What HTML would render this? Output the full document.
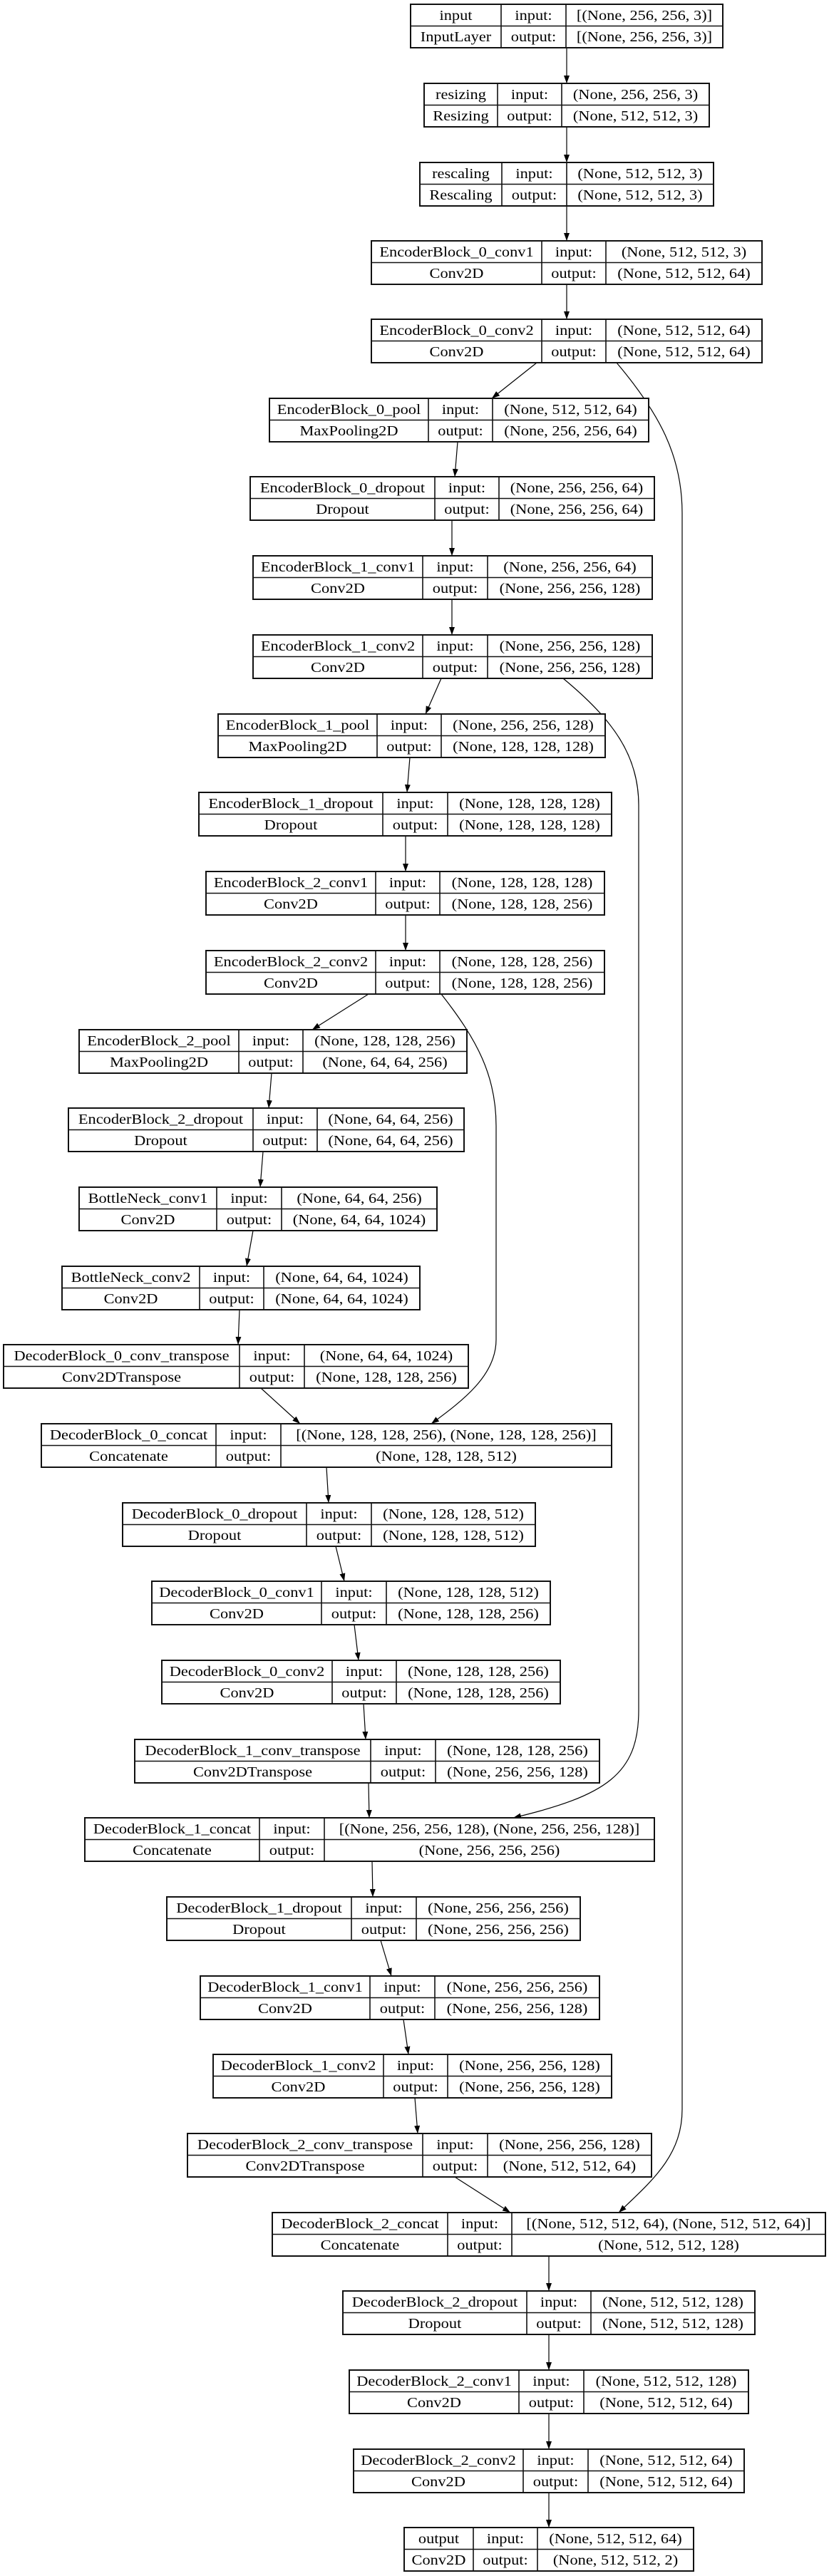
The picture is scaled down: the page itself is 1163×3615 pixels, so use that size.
<!DOCTYPE html>
<html><head><meta charset="utf-8"><style>
html,body{margin:0;padding:0;background:#fff}
svg{display:block}
text{font-family:"Liberation Serif",serif;font-size:20px;text-anchor:middle;fill:#000;transform-box:fill-box;transform-origin:center;transform:scaleX(1.12)}
rect{fill:#fff;stroke:#111;stroke-width:2}
.g{stroke:#111;stroke-width:1.6;fill:none}
.e{stroke:#000;stroke-width:1.2;fill:none;marker-end:url(#ah)}
</style></head><body>
<svg width="1163" height="3615" viewBox="0 0 1163 3615" xmlns="http://www.w3.org/2000/svg">
<defs><marker id="ah" markerUnits="userSpaceOnUse" markerWidth="11" markerHeight="8" refX="11" refY="4" orient="auto"><path d="M0,0 L11,4 L0,8 z" fill="#000"/></marker></defs>

<!-- edges -->
<path class="e" d="M795,67 L795,117"/>
<path class="e" d="M795,178 L795,228"/>
<path class="e" d="M795,289 L795,338"/>
<path class="e" d="M795,399 L795,448"/>
<path class="e" d="M753,509 L690,559"/>
<path class="e" d="M642,620 L638,669"/>
<path class="e" d="M634,730 L634,780"/>
<path class="e" d="M634,841 L634,891"/>
<path class="e" d="M619,952 L597,1002"/>
<path class="e" d="M575,1063 L571,1112"/>
<path class="e" d="M569,1173 L569,1223"/>
<path class="e" d="M569,1284 L569,1334"/>
<path class="e" d="M517,1395 L438,1445"/>
<path class="e" d="M381,1506 L377,1555"/>
<path class="e" d="M369,1616 L365,1666"/>
<path class="e" d="M355,1727 L346,1777"/>
<path class="e" d="M336,1838 L334,1887"/>
<path class="e" d="M366,1948 L421,1998"/>
<path class="e" d="M458,2059 L461,2109"/>
<path class="e" d="M471,2170 L483,2219"/>
<path class="e" d="M497,2280 L503,2330"/>
<path class="e" d="M510,2391 L513,2441"/>
<path class="e" d="M517,2502 L518,2551"/>
<path class="e" d="M522,2612 L523,2662"/>
<path class="e" d="M534,2723 L549,2773"/>
<path class="e" d="M566,2834 L573,2883"/>
<path class="e" d="M582,2944 L586,2994"/>
<path class="e" d="M638,3055 L716,3105"/>
<path class="e" d="M770,3166 L770,3215"/>
<path class="e" d="M770,3276 L770,3326"/>
<path class="e" d="M770,3387 L770,3437"/>
<path class="e" d="M770,3498 L770,3547"/>
<path class="e" d="M865,509 C925,580 957,640 957,720 L957,2960 C957,3025 915,3060 868,3105"/>
<path class="e" d="M790,952 C860,1010 896,1060 896,1130 L896,2400 C896,2490 850,2520 720,2551"/>
<path class="e" d="M619,1395 C670,1460 696,1510 696,1580 L696,1880 C696,1930 650,1965 605,1998"/>

<!-- nodes -->
<g transform="translate(0,6)"><rect x="576" y="0" width="438" height="61"/><path class="g" d="M576 30.5H1014M703 0V61M794 0V61"/><text x="639.5" y="22">input</text><text x="639.5" y="52">InputLayer</text><text x="748.5" y="22">input:</text><text x="748.5" y="52">output:</text><text x="904" y="22">[(None, 256, 256, 3)]</text><text x="904" y="52">[(None, 256, 256, 3)]</text></g>
<g transform="translate(0,117)"><rect x="595" y="0" width="400" height="61"/><path class="g" d="M595 30.5H995M698 0V61M788 0V61"/><text x="646.5" y="22">resizing</text><text x="646.5" y="52">Resizing</text><text x="743" y="22">input:</text><text x="743" y="52">output:</text><text x="891.5" y="22">(None, 256, 256, 3)</text><text x="891.5" y="52">(None, 512, 512, 3)</text></g>
<g transform="translate(0,228)"><rect x="589" y="0" width="412" height="61"/><path class="g" d="M589 30.5H1001M704 0V61M795 0V61"/><text x="646.5" y="22">rescaling</text><text x="646.5" y="52">Rescaling</text><text x="749.5" y="22">input:</text><text x="749.5" y="52">output:</text><text x="898" y="22">(None, 512, 512, 3)</text><text x="898" y="52">(None, 512, 512, 3)</text></g>
<g transform="translate(0,338)"><rect x="521" y="0" width="548" height="61"/><path class="g" d="M521 30.5H1069M760 0V61M850 0V61"/><text x="640.5" y="22">EncoderBlock_0_conv1</text><text x="640.5" y="52">Conv2D</text><text x="805" y="22">input:</text><text x="805" y="52">output:</text><text x="959.5" y="22">(None, 512, 512, 3)</text><text x="959.5" y="52">(None, 512, 512, 64)</text></g>
<g transform="translate(0,448)"><rect x="521" y="0" width="548" height="61"/><path class="g" d="M521 30.5H1069M760 0V61M850 0V61"/><text x="640.5" y="22">EncoderBlock_0_conv2</text><text x="640.5" y="52">Conv2D</text><text x="805" y="22">input:</text><text x="805" y="52">output:</text><text x="959.5" y="22">(None, 512, 512, 64)</text><text x="959.5" y="52">(None, 512, 512, 64)</text></g>
<g transform="translate(0,559)"><rect x="378" y="0" width="532" height="61"/><path class="g" d="M378 30.5H910M601 0V61M691 0V61"/><text x="489.5" y="22">EncoderBlock_0_pool</text><text x="489.5" y="52">MaxPooling2D</text><text x="646" y="22">input:</text><text x="646" y="52">output:</text><text x="800.5" y="22">(None, 512, 512, 64)</text><text x="800.5" y="52">(None, 256, 256, 64)</text></g>
<g transform="translate(0,669)"><rect x="351" y="0" width="567" height="61"/><path class="g" d="M351 30.5H918M610 0V61M700 0V61"/><text x="480.5" y="22">EncoderBlock_0_dropout</text><text x="480.5" y="52">Dropout</text><text x="655" y="22">input:</text><text x="655" y="52">output:</text><text x="809" y="22">(None, 256, 256, 64)</text><text x="809" y="52">(None, 256, 256, 64)</text></g>
<g transform="translate(0,780)"><rect x="355" y="0" width="560" height="61"/><path class="g" d="M355 30.5H915M593 0V61M684 0V61"/><text x="474" y="22">EncoderBlock_1_conv1</text><text x="474" y="52">Conv2D</text><text x="638.5" y="22">input:</text><text x="638.5" y="52">output:</text><text x="799.5" y="22">(None, 256, 256, 64)</text><text x="799.5" y="52">(None, 256, 256, 128)</text></g>
<g transform="translate(0,891)"><rect x="355" y="0" width="560" height="61"/><path class="g" d="M355 30.5H915M593 0V61M684 0V61"/><text x="474" y="22">EncoderBlock_1_conv2</text><text x="474" y="52">Conv2D</text><text x="638.5" y="22">input:</text><text x="638.5" y="52">output:</text><text x="799.5" y="22">(None, 256, 256, 128)</text><text x="799.5" y="52">(None, 256, 256, 128)</text></g>
<g transform="translate(0,1002)"><rect x="306" y="0" width="543" height="61"/><path class="g" d="M306 30.5H849M529 0V61M619 0V61"/><text x="417.5" y="22">EncoderBlock_1_pool</text><text x="417.5" y="52">MaxPooling2D</text><text x="574" y="22">input:</text><text x="574" y="52">output:</text><text x="734" y="22">(None, 256, 256, 128)</text><text x="734" y="52">(None, 128, 128, 128)</text></g>
<g transform="translate(0,1112)"><rect x="279" y="0" width="579" height="61"/><path class="g" d="M279 30.5H858M537 0V61M628 0V61"/><text x="408" y="22">EncoderBlock_1_dropout</text><text x="408" y="52">Dropout</text><text x="582.5" y="22">input:</text><text x="582.5" y="52">output:</text><text x="743" y="22">(None, 128, 128, 128)</text><text x="743" y="52">(None, 128, 128, 128)</text></g>
<g transform="translate(0,1223)"><rect x="289" y="0" width="559" height="61"/><path class="g" d="M289 30.5H848M527 0V61M617 0V61"/><text x="408" y="22">EncoderBlock_2_conv1</text><text x="408" y="52">Conv2D</text><text x="572" y="22">input:</text><text x="572" y="52">output:</text><text x="732.5" y="22">(None, 128, 128, 128)</text><text x="732.5" y="52">(None, 128, 128, 256)</text></g>
<g transform="translate(0,1334)"><rect x="289" y="0" width="559" height="61"/><path class="g" d="M289 30.5H848M527 0V61M617 0V61"/><text x="408" y="22">EncoderBlock_2_conv2</text><text x="408" y="52">Conv2D</text><text x="572" y="22">input:</text><text x="572" y="52">output:</text><text x="732.5" y="22">(None, 128, 128, 256)</text><text x="732.5" y="52">(None, 128, 128, 256)</text></g>
<g transform="translate(0,1445)"><rect x="111" y="0" width="544" height="61"/><path class="g" d="M111 30.5H655M335 0V61M425 0V61"/><text x="223" y="22">EncoderBlock_2_pool</text><text x="223" y="52">MaxPooling2D</text><text x="380" y="22">input:</text><text x="380" y="52">output:</text><text x="540" y="22">(None, 128, 128, 256)</text><text x="540" y="52">(None, 64, 64, 256)</text></g>
<g transform="translate(0,1555)"><rect x="96" y="0" width="555" height="61"/><path class="g" d="M96 30.5H651M355 0V61M445 0V61"/><text x="225.5" y="22">EncoderBlock_2_dropout</text><text x="225.5" y="52">Dropout</text><text x="400" y="22">input:</text><text x="400" y="52">output:</text><text x="548" y="22">(None, 64, 64, 256)</text><text x="548" y="52">(None, 64, 64, 256)</text></g>
<g transform="translate(0,1666)"><rect x="111" y="0" width="502" height="61"/><path class="g" d="M111 30.5H613M304 0V61M395 0V61"/><text x="207.5" y="22">BottleNeck_conv1</text><text x="207.5" y="52">Conv2D</text><text x="349.5" y="22">input:</text><text x="349.5" y="52">output:</text><text x="504" y="22">(None, 64, 64, 256)</text><text x="504" y="52">(None, 64, 64, 1024)</text></g>
<g transform="translate(0,1777)"><rect x="87" y="0" width="502" height="61"/><path class="g" d="M87 30.5H589M280 0V61M370 0V61"/><text x="183.5" y="22">BottleNeck_conv2</text><text x="183.5" y="52">Conv2D</text><text x="325" y="22">input:</text><text x="325" y="52">output:</text><text x="479.5" y="22">(None, 64, 64, 1024)</text><text x="479.5" y="52">(None, 64, 64, 1024)</text></g>
<g transform="translate(0,1887)"><rect x="5" y="0" width="652" height="61"/><path class="g" d="M5 30.5H657M336 0V61M427 0V61"/><text x="170.5" y="22">DecoderBlock_0_conv_transpose</text><text x="170.5" y="52">Conv2DTranspose</text><text x="381.5" y="22">input:</text><text x="381.5" y="52">output:</text><text x="542" y="22">(None, 64, 64, 1024)</text><text x="542" y="52">(None, 128, 128, 256)</text></g>
<g transform="translate(0,1998)"><rect x="58" y="0" width="800" height="61"/><path class="g" d="M58 30.5H858M303 0V61M394 0V61"/><text x="180.5" y="22">DecoderBlock_0_concat</text><text x="180.5" y="52">Concatenate</text><text x="348.5" y="22">input:</text><text x="348.5" y="52">output:</text><text x="626" y="22">[(None, 128, 128, 256), (None, 128, 128, 256)]</text><text x="626" y="52">(None, 128, 128, 512)</text></g>
<g transform="translate(0,2109)"><rect x="172" y="0" width="579" height="61"/><path class="g" d="M172 30.5H751M430 0V61M521 0V61"/><text x="301" y="22">DecoderBlock_0_dropout</text><text x="301" y="52">Dropout</text><text x="475.5" y="22">input:</text><text x="475.5" y="52">output:</text><text x="636" y="22">(None, 128, 128, 512)</text><text x="636" y="52">(None, 128, 128, 512)</text></g>
<g transform="translate(0,2219)"><rect x="213" y="0" width="559" height="61"/><path class="g" d="M213 30.5H772M451 0V61M542 0V61"/><text x="332" y="22">DecoderBlock_0_conv1</text><text x="332" y="52">Conv2D</text><text x="496.5" y="22">input:</text><text x="496.5" y="52">output:</text><text x="657" y="22">(None, 128, 128, 512)</text><text x="657" y="52">(None, 128, 128, 256)</text></g>
<g transform="translate(0,2330)"><rect x="227" y="0" width="559" height="61"/><path class="g" d="M227 30.5H786M466 0V61M556 0V61"/><text x="346.5" y="22">DecoderBlock_0_conv2</text><text x="346.5" y="52">Conv2D</text><text x="511" y="22">input:</text><text x="511" y="52">output:</text><text x="671" y="22">(None, 128, 128, 256)</text><text x="671" y="52">(None, 128, 128, 256)</text></g>
<g transform="translate(0,2441)"><rect x="189" y="0" width="652" height="61"/><path class="g" d="M189 30.5H841M520 0V61M611 0V61"/><text x="354.5" y="22">DecoderBlock_1_conv_transpose</text><text x="354.5" y="52">Conv2DTranspose</text><text x="565.5" y="22">input:</text><text x="565.5" y="52">output:</text><text x="726" y="22">(None, 128, 128, 256)</text><text x="726" y="52">(None, 256, 256, 128)</text></g>
<g transform="translate(0,2551)"><rect x="119" y="0" width="799" height="61"/><path class="g" d="M119 30.5H918M364 0V61M455 0V61"/><text x="241.5" y="22">DecoderBlock_1_concat</text><text x="241.5" y="52">Concatenate</text><text x="409.5" y="22">input:</text><text x="409.5" y="52">output:</text><text x="686.5" y="22">[(None, 256, 256, 128), (None, 256, 256, 128)]</text><text x="686.5" y="52">(None, 256, 256, 256)</text></g>
<g transform="translate(0,2662)"><rect x="234" y="0" width="580" height="61"/><path class="g" d="M234 30.5H814M493 0V61M584 0V61"/><text x="363.5" y="22">DecoderBlock_1_dropout</text><text x="363.5" y="52">Dropout</text><text x="538.5" y="22">input:</text><text x="538.5" y="52">output:</text><text x="699" y="22">(None, 256, 256, 256)</text><text x="699" y="52">(None, 256, 256, 256)</text></g>
<g transform="translate(0,2773)"><rect x="281" y="0" width="560" height="61"/><path class="g" d="M281 30.5H841M519 0V61M610 0V61"/><text x="400" y="22">DecoderBlock_1_conv1</text><text x="400" y="52">Conv2D</text><text x="564.5" y="22">input:</text><text x="564.5" y="52">output:</text><text x="725.5" y="22">(None, 256, 256, 256)</text><text x="725.5" y="52">(None, 256, 256, 128)</text></g>
<g transform="translate(0,2883)"><rect x="299" y="0" width="559" height="61"/><path class="g" d="M299 30.5H858M538 0V61M628 0V61"/><text x="418.5" y="22">DecoderBlock_1_conv2</text><text x="418.5" y="52">Conv2D</text><text x="583" y="22">input:</text><text x="583" y="52">output:</text><text x="743" y="22">(None, 256, 256, 128)</text><text x="743" y="52">(None, 256, 256, 128)</text></g>
<g transform="translate(0,2994)"><rect x="263" y="0" width="651" height="61"/><path class="g" d="M263 30.5H914M593 0V61M684 0V61"/><text x="428" y="22">DecoderBlock_2_conv_transpose</text><text x="428" y="52">Conv2DTranspose</text><text x="638.5" y="22">input:</text><text x="638.5" y="52">output:</text><text x="799" y="22">(None, 256, 256, 128)</text><text x="799" y="52">(None, 512, 512, 64)</text></g>
<g transform="translate(0,3105)"><rect x="382" y="0" width="776" height="61"/><path class="g" d="M382 30.5H1158M628 0V61M718 0V61"/><text x="505" y="22">DecoderBlock_2_concat</text><text x="505" y="52">Concatenate</text><text x="673" y="22">input:</text><text x="673" y="52">output:</text><text x="938" y="22">[(None, 512, 512, 64), (None, 512, 512, 64)]</text><text x="938" y="52">(None, 512, 512, 128)</text></g>
<g transform="translate(0,3215)"><rect x="481" y="0" width="578" height="61"/><path class="g" d="M481 30.5H1059M739 0V61M829 0V61"/><text x="610" y="22">DecoderBlock_2_dropout</text><text x="610" y="52">Dropout</text><text x="784" y="22">input:</text><text x="784" y="52">output:</text><text x="944" y="22">(None, 512, 512, 128)</text><text x="944" y="52">(None, 512, 512, 128)</text></g>
<g transform="translate(0,3326)"><rect x="490" y="0" width="560" height="61"/><path class="g" d="M490 30.5H1050M728 0V61M819 0V61"/><text x="609" y="22">DecoderBlock_2_conv1</text><text x="609" y="52">Conv2D</text><text x="773.5" y="22">input:</text><text x="773.5" y="52">output:</text><text x="934.5" y="22">(None, 512, 512, 128)</text><text x="934.5" y="52">(None, 512, 512, 64)</text></g>
<g transform="translate(0,3437)"><rect x="496" y="0" width="548" height="61"/><path class="g" d="M496 30.5H1044M734 0V61M825 0V61"/><text x="615" y="22">DecoderBlock_2_conv2</text><text x="615" y="52">Conv2D</text><text x="779.5" y="22">input:</text><text x="779.5" y="52">output:</text><text x="934.5" y="22">(None, 512, 512, 64)</text><text x="934.5" y="52">(None, 512, 512, 64)</text></g>
<g transform="translate(0,3547)"><rect x="567" y="0" width="406" height="61"/><path class="g" d="M567 30.5H973M664 0V61M754 0V61"/><text x="615.5" y="22">output</text><text x="615.5" y="52">Conv2D</text><text x="709" y="22">input:</text><text x="709" y="52">output:</text><text x="863.5" y="22">(None, 512, 512, 64)</text><text x="863.5" y="52">(None, 512, 512, 2)</text></g>
</svg>
</body></html>
